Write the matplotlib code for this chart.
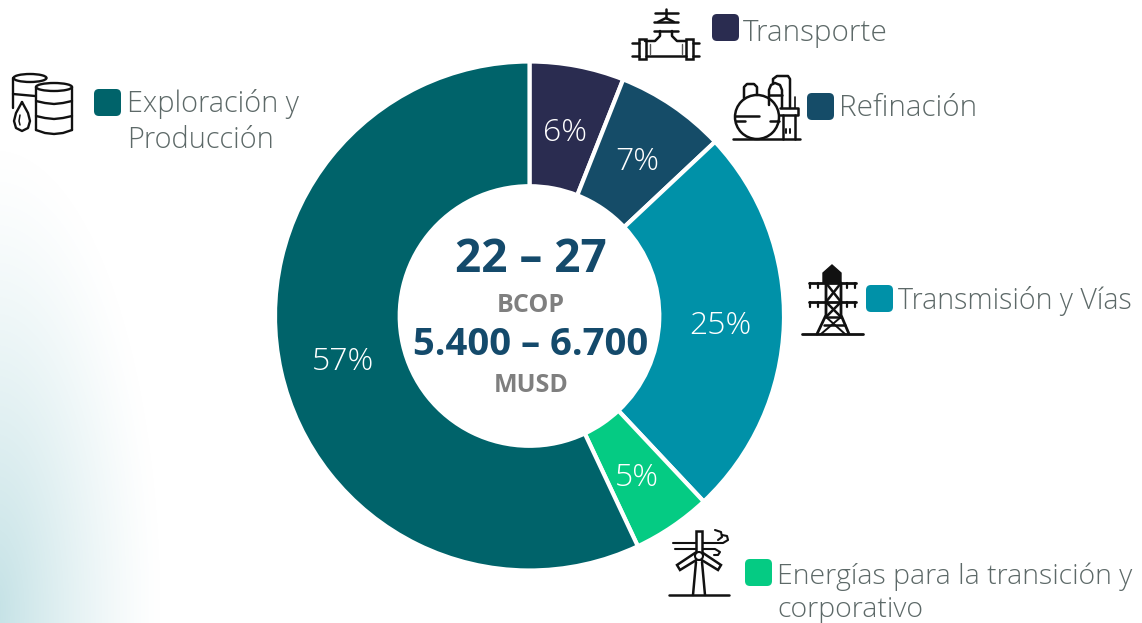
import matplotlib
matplotlib.use("Agg")
import matplotlib.pyplot as plt
from matplotlib.patches import Circle, Ellipse, FancyBboxPatch, Polygon, Rectangle
import numpy as np

# datos
categorias = ["Transporte", "Refinación", "Transmisión y Vías",
              "Energías para la transición y\ncorporativo", "Exploración y\nProducción"]
valores = [6, 7, 25, 5, 57]
colores = ["#2a2c50", "#154c68", "#0091a8", "#05cb83", "#00636a"]
centro_textos = ["22 – 27", "BCOP", "5.400 – 6.700", "MUSD"]

AZUL = "#144a6b"
GRIS = "#7f7f7f"
TEXTO = "#5d6968"
NEGRO = "#111111"

plt.rcParams['font.family'] = ['Open Sans', 'DejaVu Sans']

W, H = 1142, 623
fig = plt.figure(figsize=(W / 100, H / 100), dpi=100, facecolor='white')

# capa en pixeles, para fondo, iconos y leyenda
ax = fig.add_axes([0, 0, 1, 1])
ax.set_xlim(0, W)
ax.set_ylim(H, 0)
ax.axis('off')

# degradado del fondo a la izquierda
xx, yy = np.meshgrid(np.arange(0, 200), np.arange(0, H))
d = np.sqrt(((xx + 5) / 165.0) ** 2 + ((yy - 610) / 460.0) ** 2)
a = np.clip(1 - d, 0, 1) ** 1.25
rgb = np.ones((H, 200, 3))
base = np.array([0.77, 0.885, 0.90])
for i in range(3):
    rgb[:, :, i] = 1 - a * (1 - base[i])
ax.imshow(rgb, extent=(0, 200, H, 0), aspect='auto', zorder=0)
ax.set_xlim(0, W)
ax.set_ylim(H, 0)

# dona
cx, cy, R = 529.5, 316, 254.5
axp = fig.add_axes([(cx - R) / W, 1 - (cy + R) / H, 2 * R / W, 2 * R / H])
wedges, _, pct = axp.pie(valores, colors=colores, startangle=90, counterclock=False,
                         radius=1.0, autopct='%.0f%%', pctdistance=0.75,
                         wedgeprops={'width': 0.49, 'edgecolor': 'white', 'linewidth': 3})
axp.set_xlim(-1, 1)
axp.set_ylim(-1, 1)
axp.patch.set_alpha(0)
for t in pct:
    t.set_color('white')
    t.set_fontsize(23)
    t.set_fontweight('light')
    t.set_y(t.get_position()[1] - 0.016)

# texto del centro
ax2 = fig.add_axes([0, 0, 1, 1])
ax2.set_xlim(0, W)
ax2.set_ylim(H, 0)
ax2.axis('off')
ax2.patch.set_alpha(0)
ax2.text(531, 260, centro_textos[0], color=AZUL, fontsize=33, fontweight='bold', ha='center', va='center')
ax2.text(531, 306, centro_textos[1], color=GRIS, fontsize=18, fontweight='bold', ha='center', va='center')
ax2.text(531, 345, centro_textos[2], color=AZUL, fontsize=27.5, fontweight='bold', ha='center', va='center')
ax2.text(531, 386, centro_textos[3], color=GRIS, fontsize=18, fontweight='bold', ha='center', va='center')

# leyenda (x cuadro, y cuadro, x texto, y texto, tamano)
pos_leyenda = [(712, 14, 743, 33, 21.3), (807, 93, 839, 108, 21.3), (866, 285, 898, 301, 20.6),
               (745, 559, 777, 593, 20.5), (94, 89, 127, 122, 20.8)]
for (qx, qy, tx, ty, fs), cat, col in zip(pos_leyenda, categorias, colores):
    ax2.add_patch(FancyBboxPatch((qx + 5, qy + 5), 17, 17, boxstyle="round,pad=5,rounding_size=5",
                                 fc=col, ec='none'))
    ax2.text(tx, ty, cat, color=TEXTO, fontsize=fs, fontweight='light', ha='left', va='center',
             linespacing=1.25)


def linea(xs, ys, lw=1.8, color=NEGRO):
    ax2.plot(xs, ys, color=color, lw=lw, solid_capstyle='round', solid_joinstyle='round')


# icono transporte
linea([655, 678], [13, 13])
linea([666, 666], [9, 18])
linea([658, 666, 674], [22, 18, 22])
linea([654, 678], [22, 22])
linea([654, 678], [31, 31])
linea([660, 660, 655, 645], [31, 36, 41, 41])
linea([672, 672, 677, 686], [31, 36, 41, 41])
linea([646, 686], [56, 56])
for x0 in (639, 686):
    ax2.add_patch(Rectangle((x0, 39), 7, 20, fc='none', ec=NEGRO, lw=1.8))
for xs in ([632, 639], [693, 699]):
    linea(xs, [43, 43])
    linea(xs, [56, 56])
linea([650, 650], [44, 54], lw=1, color='#555555')
linea([682, 682], [44, 54], lw=1, color='#555555')

# icono refineria
ax2.add_patch(Circle((757, 117), 22, fc='none', ec=NEGRO, lw=1.8))
linea([733, 800], [139, 139])
linea([735, 759], [116, 116])
linea([736, 745], [121, 121])
linea([770, 779], [121, 121])
linea([744, 744, 747, 754, 757, 757], [98, 87, 84, 84, 87, 95])
linea([769, 769, 771, 775, 780, 782, 782], [105, 90, 85, 83, 85, 90, 108])
linea([769, 782], [95, 95])
linea([773, 773, 777, 788, 790, 790], [83, 79, 76, 76, 79, 108])
linea([780, 798, 798, 780], [108, 108, 115, 115])
linea([783, 783], [115, 139])
linea([795, 795], [115, 139])
linea([786, 786], [129, 133], lw=1.4)
linea([790, 790], [129, 133], lw=1.4)
linea([795, 795], [97, 108], lw=1.2)

# icono torre
ax2.add_patch(Polygon([(832, 265), (841, 273), (841, 283), (823, 283), (823, 273)], fc=NEGRO, ec=NEGRO))
for y0 in (283, 302):
    linea([809, 856], [y0, y0], lw=2)
    for x0 in (810, 818, 847, 855):
        linea([x0, x0], [y0, y0 + 5], lw=1.6)
linea([826, 826, 817], [283, 315, 334], lw=2)
linea([841, 841, 849], [283, 315, 334], lw=2)
linea([826, 841], [283, 302], lw=1.8)
linea([841, 826], [283, 302], lw=1.8)
linea([826, 841], [302, 317], lw=1.8)
linea([841, 826], [302, 317], lw=1.8)
linea([826, 841], [317, 317], lw=1.8)
linea([824, 845], [325, 325], lw=1.8)
linea([826, 845], [317, 334], lw=1.4)
linea([841, 821], [317, 334], lw=1.4)
linea([802, 863], [334, 334], lw=2)

# icono eolica
linea([669, 729], [595, 595])
linea([696, 693], [562, 595])
linea([702, 705], [562, 595])
linea([673, 723, 728, 727, 722], [543, 543, 540, 536, 535], lw=1.5)
linea([675, 715, 720, 718, 714], [549, 549, 552, 555, 555], lw=1.5)
linea([715, 721, 722, 718], [530, 532, 537, 540], lw=1.5)
ax2.add_patch(Rectangle((696, 531), 6, 22, fc='white', ec=NEGRO, lw=1.8, zorder=4))
ax2.add_patch(Polygon([(695, 553), (677, 565), (680, 570), (698, 559)], fc='white', ec=NEGRO, lw=1.8, zorder=4))
ax2.add_patch(Polygon([(703, 553), (721, 565), (718, 570), (700, 559)], fc='white', ec=NEGRO, lw=1.8, zorder=4))
ax2.add_patch(Circle((699, 556), 4, fc='white', ec=NEGRO, lw=1.5, zorder=5))

# icono barriles
ax2.add_patch(Ellipse((30, 78), 33, 8, fc='none', ec=NEGRO, lw=1.7))
linea([13, 13], [78, 108], lw=1.7)
linea([13, 35], [94, 96], lw=1.7)
ax2.add_patch(Ellipse((54, 87), 36, 8, fc='white', ec=NEGRO, lw=1.7, zorder=4))
linea([36, 36], [87, 130], lw=1.7)
linea([72, 72], [87, 130], lw=1.7)
xs_arc = [36, 45, 54, 63, 72]
linea(xs_arc, [101, 103, 104, 103, 101], lw=1.7)
linea(xs_arc, [116, 118, 119, 118, 116], lw=1.7)
linea(xs_arc, [130, 133, 134, 133, 130], lw=1.7)
linea([22, 16, 14, 16, 22, 28, 30, 28, 22], [102, 113, 121, 128, 131, 128, 121, 113, 102], lw=1.7)
linea([20, 19, 20], [115, 121, 125], lw=1.1)

fig.savefig('out.png', dpi=100, facecolor='white')
